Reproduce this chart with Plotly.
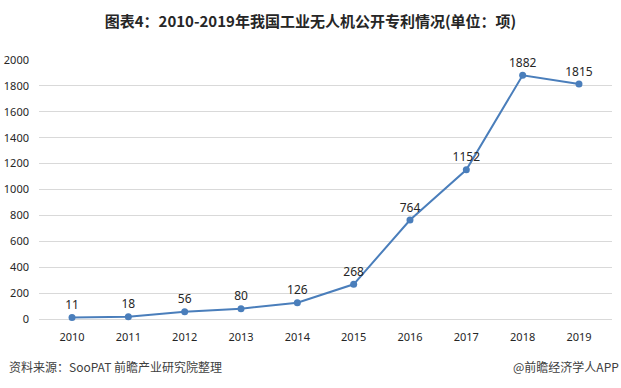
import plotly.graph_objects as go

years = ["2010", "2011", "2012", "2013", "2014", "2015", "2016", "2017", "2018", "2019"]
patents = [11, 18, 56, 80, 126, 268, 764, 1152, 1882, 1815]
y_ticks = [0, 200, 400, 600, 800, 1000, 1200, 1400, 1600, 1800, 2000]

title_text = "图表4：2010-2019年我国工业无人机公开专利情况(单位：项)"
source_text = "资料来源：SooPAT 前瞻产业研究院整理"
brand_text = "@前瞻经济学人APP"

font_family = "Microsoft YaHei, Noto Sans CJK SC, DejaVu Sans, sans-serif"
num_font = "Noto Sans, DejaVu Sans, sans-serif"

fig = go.Figure()
fig.add_trace(go.Scatter(
    x=years, y=patents,
    mode="lines+markers+text",
    line=dict(color="#4A7EBB", width=2),
    marker=dict(color="#4A7EBB", size=7),
    text=[str(v) for v in patents],
    textposition="top center",
    textfont=dict(size=12, color="#262626", family=num_font),
    cliponaxis=False,
    showlegend=False,
    hoverinfo="skip",
))

fig.update_layout(
    width=621, height=388,
    margin=dict(l=39, r=9, t=60, b=69, autoexpand=False),
    paper_bgcolor="white",
    plot_bgcolor="white",
    font=dict(family=font_family, color="#262626"),
    title=dict(text="<b>" + title_text + "</b>", x=0.5, xanchor="center",
               y=0.943, yanchor="middle",
               font=dict(size=15, color="#262626", family=font_family)),
    xaxis=dict(type="category", showgrid=False, showline=False, ticks="",
               ticklabelstandoff=10, automargin=False,
               tickfont=dict(size=11, color="#262626", family=num_font)),
    yaxis=dict(range=[0, 2000], tickvals=y_ticks, showgrid=True, gridcolor="#D9D9D9",
               gridwidth=1, zeroline=True, zerolinecolor="#D9D9D9", zerolinewidth=1,
               showline=False, ticks="", ticklabelstandoff=9, automargin=False,
               tickfont=dict(size=11, color="#262626", family=num_font)),
    annotations=[
        dict(text=source_text, xref="paper", yref="paper", x=-0.055, y=-0.185,
             xanchor="left", yanchor="middle", showarrow=False,
             font=dict(size=12, color="#404040", family=font_family)),
        dict(text=brand_text, xref="paper", yref="paper", x=1.015, y=-0.185,
             xanchor="right", yanchor="middle", showarrow=False,
             font=dict(size=12, color="#404040", family=font_family)),
    ],
)

fig.write_html("out.html", config={"displayModeBar": False},
               post_script="document.body.style.margin='0';")
